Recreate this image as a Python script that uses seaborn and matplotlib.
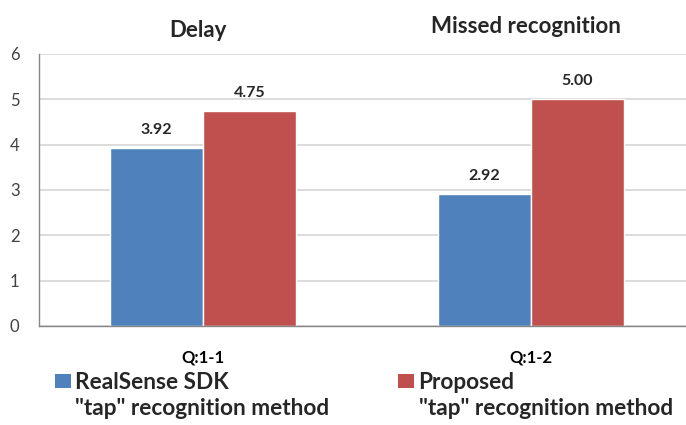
import matplotlib
matplotlib.use("Agg")
import matplotlib.pyplot as plt
import seaborn as sns
import pandas as pd
from matplotlib.patches import Patch
from matplotlib.ticker import FixedLocator

# Survey results per question
questions = ["Q:1-1", "Q:1-2"]
group_titles = ["Delay", "Missed recognition"]
methods = ["RealSense SDK\n\"tap\" recognition method",
           "Proposed\n\"tap\" recognition method"]
realsense_scores = [3.92, 2.92]
proposed_scores = [4.75, 5.00]
y_ticks = [0, 1, 2, 3, 4, 5, 6]

colors = ["#4F81BD", "#C0504D"]

df = pd.DataFrame({
    "question": questions * 2,
    "method": [methods[0]] * len(questions) + [methods[1]] * len(questions),
    "score": realsense_scores + proposed_scores,
})

sns.set_theme(style="white")
plt.rcParams["font.family"] = ["Lato", "DejaVu Sans"]

W, H = 686, 425
fig = plt.figure(figsize=(W / 100, H / 100), dpi=100)
ax = fig.add_axes([39 / W, 99 / H, 656 / W, 272 / H])

sns.barplot(data=df, x="question", y="score", hue="method",
            order=questions, hue_order=methods, palette=colors,
            width=0.567, saturation=1, ax=ax, legend=False)

ax.set_xlim(-0.5, len(questions) - 0.5)
ax.set_ylim(y_ticks[0], y_ticks[-1])
ax.set_yticks(y_ticks)
ax.set_xlabel("")
ax.set_ylabel("")

# gridlines and axes styling
ax.yaxis.grid(True, color="#D9D9D9", lw=1.3)
ax.xaxis.grid(False)
ax.set_axisbelow(True)
for side in ("top", "right"):
    ax.spines[side].set_visible(False)
for side in ("left", "bottom"):
    ax.spines[side].set_color("#868686")
    ax.spines[side].set_linewidth(1.0)

ax.tick_params(axis="y", direction="out", length=5, width=1,
               color="#868686", labelsize=12, labelcolor="#404040", pad=9)
ax.tick_params(axis="x", which="major", length=0, labelsize=12,
               labelcolor="#000000", pad=17)
for lbl in ax.get_xticklabels():
    lbl.set_fontweight("bold")
ax.xaxis.set_minor_locator(FixedLocator([i - 0.5 for i in range(len(questions) + 1)]))
ax.tick_params(axis="x", which="minor", direction="out", length=5, width=1,
               color="#868686")

# value labels
for cont in ax.containers:
    ax.bar_label(cont, fmt="%.2f", padding=8, fontsize=11.5, fontweight="bold")

# group titles above each question
title_y = [6.52, 6.6]
for i, (t, ty) in enumerate(zip(group_titles, title_y)):
    ax.text(i - 0.015, ty, t, ha="center", va="center", fontsize=16,
            fontweight="bold", clip_on=False)

# legend: first line of each series name beside the swatch, second line below
fs = 16.3
handles = [Patch(facecolor=c, edgecolor="none") for c in colors]
first_lines = [m.split("\n")[0] for m in methods]
leg = fig.legend(handles, first_lines, loc="upper left",
                 bbox_to_anchor=(55 / W, (H - 372) / H), ncol=2, frameon=False,
                 prop={"size": fs, "weight": "bold"}, borderpad=0,
                 borderaxespad=0, handlelength=0.71, handleheight=0.62,
                 handletextpad=0.18, columnspacing=7.47)
second_x = [75, 419]
for m, x in zip(methods, second_x):
    fig.text(x / W, (H - 415) / H, m.split("\n")[1], ha="left", va="baseline",
             fontsize=fs, fontweight="bold")

fig.savefig("out.png", dpi=100)
